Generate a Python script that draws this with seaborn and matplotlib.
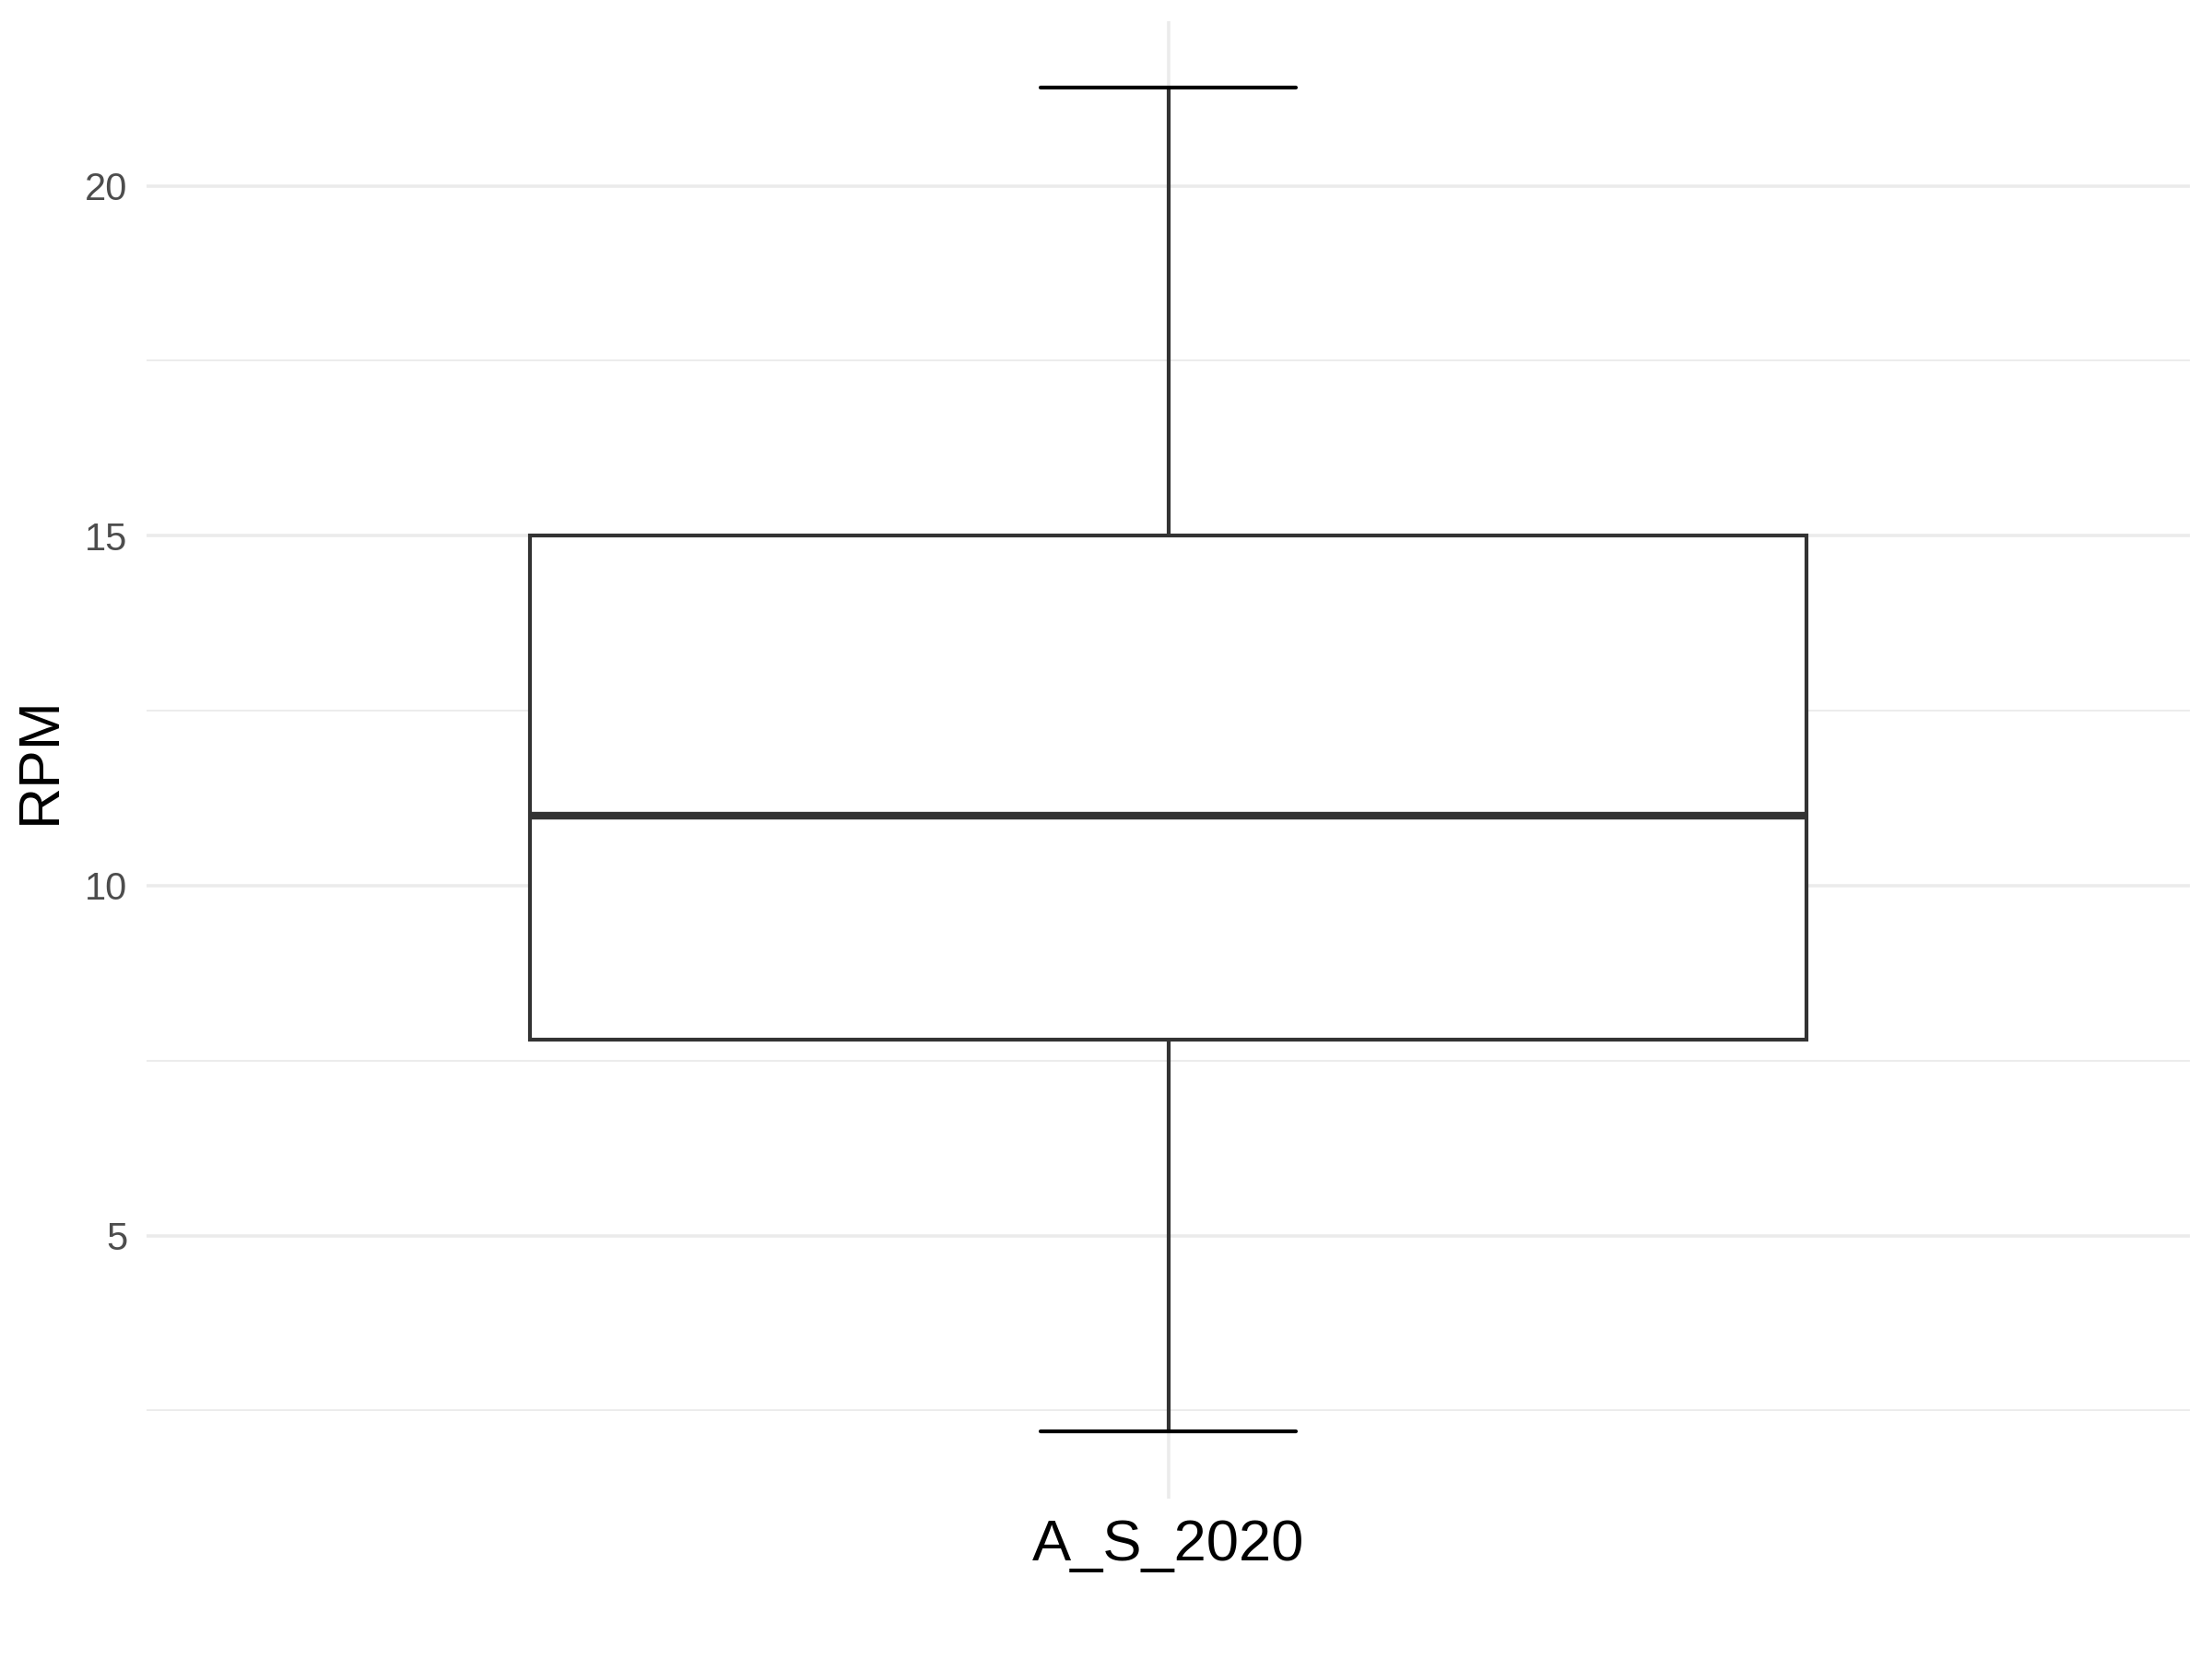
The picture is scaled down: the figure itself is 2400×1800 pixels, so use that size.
import matplotlib
matplotlib.use("Agg")
import matplotlib.pyplot as plt
import seaborn as sns
import pandas as pd
from matplotlib.ticker import MultipleLocator

# five-number summary (min, Q1, median, Q3, max)
group = ["A_S_2020"] * 5
rpm = [2.2, 7.8, 11.0, 15.0, 21.4]

df = pd.DataFrame({"group": group, "RPM": rpm})

sns.set_style("white")
plt.rcParams["font.family"] = ["Liberation Sans", "DejaVu Sans"]

fig, ax = plt.subplots(figsize=(8, 6), dpi=300)
fig.subplots_adjust(left=159 / 2400, right=2376 / 2400, top=1 - 22.5 / 1800, bottom=1 - 1626 / 1800)

sns.boxplot(
    data=df, x="group", y="RPM", ax=ax,
    width=0.75, color="white", saturation=1, linecolor="#333333", linewidth=1.0,
    capwidths=0.15,
    medianprops=dict(color="#333333", linewidth=2.0),
    whiskerprops=dict(color="#333333", linewidth=1.0),
    capprops=dict(color="black", linewidth=1.0),
    zorder=3,
)

# ggplot-like expansion
lo, hi = min(rpm), max(rpm)
pad = (hi - lo) * 0.05
ax.set_ylim(lo - pad, hi + pad)
ax.set_xlim(-0.6, 0.6)

ax.yaxis.set_major_locator(MultipleLocator(5))
ax.yaxis.set_minor_locator(MultipleLocator(2.5))
ax.grid(True, which="major", color="#EBEBEB", linewidth=0.85, zorder=0)
ax.grid(True, which="minor", axis="y", color="#EBEBEB", linewidth=0.45, zorder=0)
ax.set_axisbelow(True)

for s in ax.spines.values():
    s.set_visible(False)

ax.tick_params(axis="both", which="both", length=0)
ax.tick_params(axis="y", labelsize=10, labelcolor="#4D4D4D", pad=5)
ax.tick_params(axis="x", labelsize=15.2, labelcolor="black", pad=5)

ax.set_xlabel("")
ax.set_ylabel("RPM", fontsize=15, color="black", labelpad=4.5)

fig.savefig("out.png", dpi=300)
